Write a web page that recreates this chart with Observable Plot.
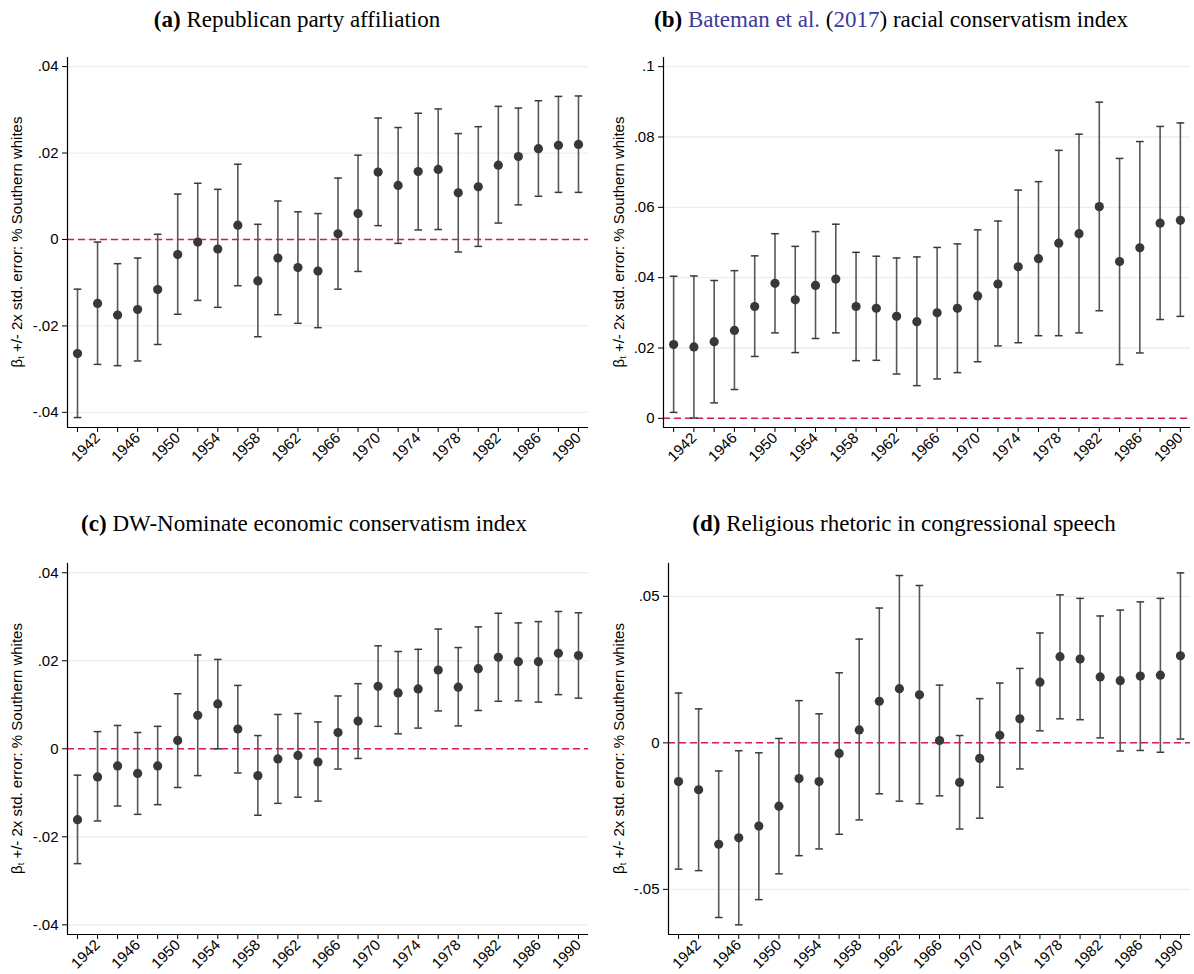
<!DOCTYPE html>
<html>
<head>
<meta charset="utf-8">
<script src="https://cdn.jsdelivr.net/npm/d3@7"></script>
<script src="https://cdn.jsdelivr.net/npm/@observablehq/plot@0.6"></script>
<style>
  html, body { margin: 0; padding: 0; background: #fff; }
  #wrap { position: relative; width: 1194px; height: 974px; background: #fff; overflow: hidden; }
  .title { position: absolute; width: 700px; text-align: center; font-family: "Liberation Serif", "Times New Roman", serif; font-size: 23px; line-height: 26px; color: #000; white-space: nowrap; }
  .title .cite { color: #3a3a9e; }
  .panel { position: absolute; }
</style>
</head>
<body>
<div id="wrap"></div>
<script>
// ---- Data ----
const years = [1940,1942,1944,1946,1948,1950,1952,1954,1956,1958,1960,1962,1964,1966,1968,1970,1972,1974,1976,1978,1980,1982,1984,1986,1988,1990];
const labelYears = [1942,1946,1950,1954,1958,1962,1966,1970,1974,1978,1982,1986,1990];

// (a) Republican party affiliation
const repEst = [-0.0264,-0.0148,-0.0175,-0.0162,-0.0116,-0.0035,-0.0006,-0.0022,0.0033,-0.0096,-0.0043,-0.0065,-0.0073,0.0013,0.0060,0.0156,0.0125,0.0157,0.0162,0.0108,0.0122,0.0172,0.0192,0.0210,0.0218,0.0220];
const repLo  = [-0.0412,-0.0289,-0.0292,-0.0281,-0.0243,-0.0173,-0.0141,-0.0157,-0.0107,-0.0225,-0.0174,-0.0194,-0.0204,-0.0115,-0.0074,0.0032,-0.0009,0.0022,0.0023,-0.0029,-0.0016,0.0038,0.0080,0.0100,0.0109,0.0109];
const repHi  = [-0.0115,-0.0006,-0.0056,-0.0043,0.0012,0.0105,0.0130,0.0116,0.0174,0.0035,0.0089,0.0064,0.0060,0.0142,0.0195,0.0281,0.0259,0.0292,0.0302,0.0245,0.0261,0.0308,0.0304,0.0321,0.0331,0.0332];

// (b) Bateman et al. (2017) racial conservatism index
const racEst = [0.0210,0.0203,0.0218,0.0250,0.0318,0.0384,0.0337,0.0378,0.0396,0.0318,0.0313,0.0290,0.0275,0.0300,0.0313,0.0348,0.0382,0.0431,0.0454,0.0498,0.0525,0.0602,0.0446,0.0485,0.0555,0.0563];
const racLo  = [0.0017,0.0001,0.0044,0.0082,0.0176,0.0243,0.0187,0.0227,0.0243,0.0164,0.0165,0.0126,0.0093,0.0112,0.0130,0.0161,0.0206,0.0215,0.0235,0.0235,0.0243,0.0306,0.0153,0.0186,0.0281,0.0290];
const racHi  = [0.0404,0.0405,0.0392,0.0420,0.0462,0.0525,0.0489,0.0531,0.0552,0.0472,0.0461,0.0456,0.0459,0.0486,0.0496,0.0536,0.0561,0.0649,0.0673,0.0762,0.0808,0.0899,0.0739,0.0787,0.0830,0.0840];

// (c) DW-Nominate economic conservatism index
const ecoEst = [-0.0161,-0.0064,-0.0039,-0.0056,-0.0039,0.0019,0.0076,0.0102,0.0045,-0.0061,-0.0023,-0.0015,-0.0030,0.0037,0.0063,0.0142,0.0127,0.0136,0.0179,0.0140,0.0182,0.0208,0.0198,0.0198,0.0217,0.0212];
const ecoLo  = [-0.0261,-0.0164,-0.0130,-0.0149,-0.0127,-0.0088,-0.0061,0.0000,-0.0055,-0.0151,-0.0124,-0.0110,-0.0119,-0.0046,-0.0022,0.0051,0.0034,0.0047,0.0086,0.0052,0.0087,0.0108,0.0109,0.0106,0.0123,0.0115];
const ecoHi  = [-0.0060,0.0039,0.0053,0.0037,0.0051,0.0125,0.0213,0.0203,0.0144,0.0030,0.0078,0.0080,0.0061,0.0120,0.0148,0.0234,0.0221,0.0226,0.0272,0.0230,0.0277,0.0308,0.0286,0.0289,0.0312,0.0309];

// (d) Religious rhetoric in congressional speech
const relEst = [-0.0132,-0.0160,-0.0346,-0.0324,-0.0284,-0.0216,-0.0122,-0.0132,-0.0036,0.0044,0.0142,0.0185,0.0164,0.0008,-0.0135,-0.0053,0.0026,0.0082,0.0207,0.0294,0.0286,0.0225,0.0212,0.0228,0.0231,0.0297];
const relLo  = [-0.0431,-0.0436,-0.0596,-0.0621,-0.0535,-0.0447,-0.0385,-0.0362,-0.0312,-0.0263,-0.0174,-0.0199,-0.0208,-0.0181,-0.0294,-0.0257,-0.0151,-0.0089,0.0041,0.0082,0.0079,0.0017,-0.0028,-0.0026,-0.0032,0.0013];
const relHi  = [0.0170,0.0116,-0.0096,-0.0027,-0.0034,0.0015,0.0144,0.0099,0.0239,0.0354,0.0460,0.0571,0.0537,0.0197,0.0025,0.0151,0.0204,0.0254,0.0375,0.0505,0.0493,0.0433,0.0453,0.0481,0.0493,0.0580];

const titles = [
  '<b>(a)</b> Republican party affiliation',
  '<b>(b)</b> <span class="cite">Bateman et al.</span> (<span class="cite">2017</span>) racial conservatism index',
  '<b>(c)</b> DW-Nominate economic conservatism index',
  '<b>(d)</b> Religious rhetoric in congressional speech'
];

// ---- Layout ----
const panels = [
  {est: repEst, lo: repLo, hi: repHi, yDomain: [-0.0435, 0.0421], yTicks: [-0.04,-0.02,0,0.02,0.04],
   left: 0, top: 40, height: 460, mL: 67, mR: 9, mT: 17, mB: 73, labelX: 16, titleCx: 297, titleTop: 7},
  {est: racEst, lo: racLo, hi: racHi, yDomain: [-0.0026, 0.1026], yTicks: [0,0.02,0.04,0.06,0.08,0.1],
   left: 597, top: 40, height: 460, mL: 66, mR: 4, mT: 17, mB: 73, labelX: 20.5, titleCx: 891, titleTop: 7},
  {est: ecoEst, lo: ecoLo, hi: ecoHi, yDomain: [-0.0422, 0.0421], yTicks: [-0.04,-0.02,0,0.02,0.04],
   left: 0, top: 550, height: 424, mL: 67, mR: 9, mT: 13, mB: 40, labelX: 15.5, titleCx: 304, titleTop: 511},
  {est: relEst, lo: relLo, hi: relHi, yDomain: [-0.0654, 0.0612], yTicks: [-0.05,0,0.05],
   left: 597, top: 550, height: 424, mL: 71, mR: 4, mT: 13, mB: 40, labelX: 20.5, titleCx: 904, titleTop: 511}
];

const fmtY = d => {
  if (d === 0) return "0";
  return String(+d.toFixed(4)).replace(/^(-?)0\./, "$1.");
};

const wrap = document.getElementById("wrap");
const sans = '"Liberation Sans", Arial, Helvetica, sans-serif';

panels.forEach((p, i) => {
  const t = document.createElement("div");
  t.className = "title";
  t.style.left = (p.titleCx - 350) + "px";
  t.style.top = p.titleTop + "px";
  t.innerHTML = titles[i];
  wrap.appendChild(t);

  const data = years.map((y, k) => ({year: y, b: p.est[k], lo: p.lo[k], hi: p.hi[k]}));
  const capHalf = 0.38;

  const svg = Plot.plot({
    width: 597,
    height: p.height,
    marginLeft: p.mL,
    marginRight: p.mR,
    marginTop: p.mT,
    marginBottom: p.mB,
    style: {fontFamily: sans, fontSize: "15px", color: "#000", background: "#fff", overflow: "visible"},
    x: {type: "linear", domain: [1939, 1991], label: null},
    y: {domain: p.yDomain, label: null},
    marks: [
      Plot.gridY(p.yTicks, {stroke: "#e6eff1", strokeOpacity: 1, strokeWidth: 1.3}),
      Plot.ruleY([0], {stroke: "#d41f4c", strokeWidth: 1.5, strokeDasharray: "7,4"}),
      Plot.ruleX([1939], {stroke: "#000", strokeWidth: 1.2}),
      Plot.ruleY([p.yDomain[0]], {stroke: "#000", strokeWidth: 1.2}),
      Plot.axisY({ticks: p.yTicks, tickFormat: fmtY, tickSize: 5, tickPadding: 4, stroke: "#000", label: null, fontSize: 15}),
      Plot.axisX({ticks: years, tickSize: 5, tickPadding: 3, tickRotate: -45, label: null, fontSize: 15,
                  tickFormat: d => labelYears.includes(d) ? String(d) : ""}),
      Plot.ruleX(data, {x: "year", y1: "lo", y2: "hi", stroke: "#575757", strokeWidth: 1.6}),
      Plot.link(data, {x1: d => d.year - capHalf, x2: d => d.year + capHalf, y1: "lo", y2: "lo", stroke: "#3a3a3a", strokeWidth: 1.5}),
      Plot.link(data, {x1: d => d.year - capHalf, x2: d => d.year + capHalf, y1: "hi", y2: "hi", stroke: "#3a3a3a", strokeWidth: 1.5}),
      Plot.dot(data, {x: "year", y: "b", r: 4.6, fill: "#383838", stroke: "none"})
    ]
  });
  svg.classList.add("panel");
  svg.style.left = p.left + "px";
  svg.style.top = p.top + "px";
  wrap.appendChild(svg);

  // Y-axis label with subscript
  const cy = p.mT + (p.height - p.mT - p.mB) / 2;
  const lab = d3.select(svg).append("text")
    .attr("transform", `translate(${p.labelX},${cy}) rotate(-90)`)
    .attr("text-anchor", "middle")
    .attr("dominant-baseline", "central")
    .attr("font-family", sans)
    .attr("font-size", 15)
    .attr("fill", "#000");
  lab.append("tspan").text("β");
  lab.append("tspan").attr("baseline-shift", "sub").attr("font-size", 9).text("t");
  lab.append("tspan").text(" +/- 2x std. error: % Southern whites");
});
</script>
</body>
</html>
